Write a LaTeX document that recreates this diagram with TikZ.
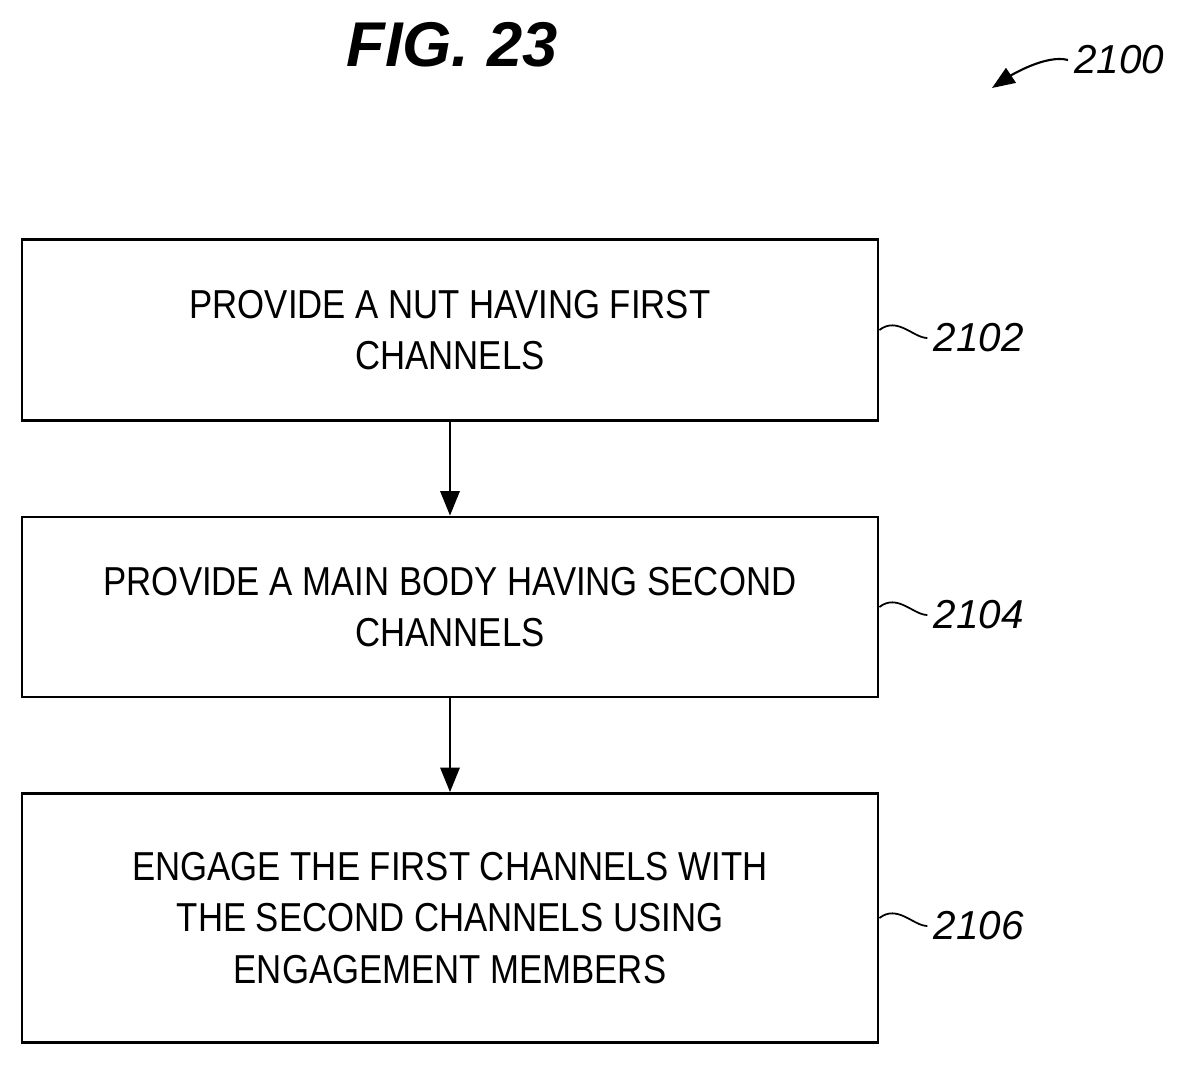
\documentclass[tikz,border=0pt]{standalone}
\usepackage{fontspec}
\setmainfont{Liberation Sans}
\newfontfamily\narrowsans[FakeStretch=0.86]{Liberation Sans}
\usetikzlibrary{positioning,arrows.meta}
\begin{document}
\begin{tikzpicture}[x=0.02cm,y=-0.02cm,
    stepbox/.style={draw, line width=1.6pt, minimum width=856*0.02cm, align=center,
      font=\narrowsans\fontsize{23}{29.5}\selectfont},
    tag/.style={font=\fontsize{23}{25}\selectfont\itshape, anchor=west},
    flow/.style={-{Triangle[length=14pt,width=11pt]}, line width=1.4pt}
]
\useasboundingbox (0,0) rectangle (1186,1065);

\node[font=\fontsize{36}{40}\selectfont\bfseries\itshape] (fig) at (452,45) {FIG. 23};

% steps
\node[stepbox, minimum height=181*0.02cm] (S1) at (450,330) {PROVIDE A NUT HAVING FIRST\\CHANNELS};
\node[stepbox, minimum height=180*0.02cm] (S2) at (450,607) {PROVIDE A MAIN BODY HAVING SECOND\\CHANNELS};
\node[stepbox, minimum height=249*0.02cm] (S3) at (450,918) {ENGAGE THE FIRST CHANNELS WITH\\THE SECOND CHANNELS USING\\ENGAGEMENT MEMBERS};

\draw[flow] (S1) -- (S2);
\draw[flow] (S2) -- (S3);

% reference numerals
\foreach \s/\n in {S1/2102, S2/2104, S3/2106} {
  \node[tag] (T\n) at ([xshift=48*0.02cm, yshift=-8*0.02cm]\s.east) {\n};
  \draw[line width=1pt] (\s.east) .. controls +(18,-14) and +(-14,0) .. (T\n.west);
}
\node[tag] (T2100) at (1068,60) {2100};
\coordinate (P2100) at (992,88);
\draw[line width=1.2pt, -{Triangle[length=13pt,width=10pt]}] (T2100.west) .. controls +(-22,-6) and +(18,-12) .. (P2100);
\end{tikzpicture}
\end{document}
